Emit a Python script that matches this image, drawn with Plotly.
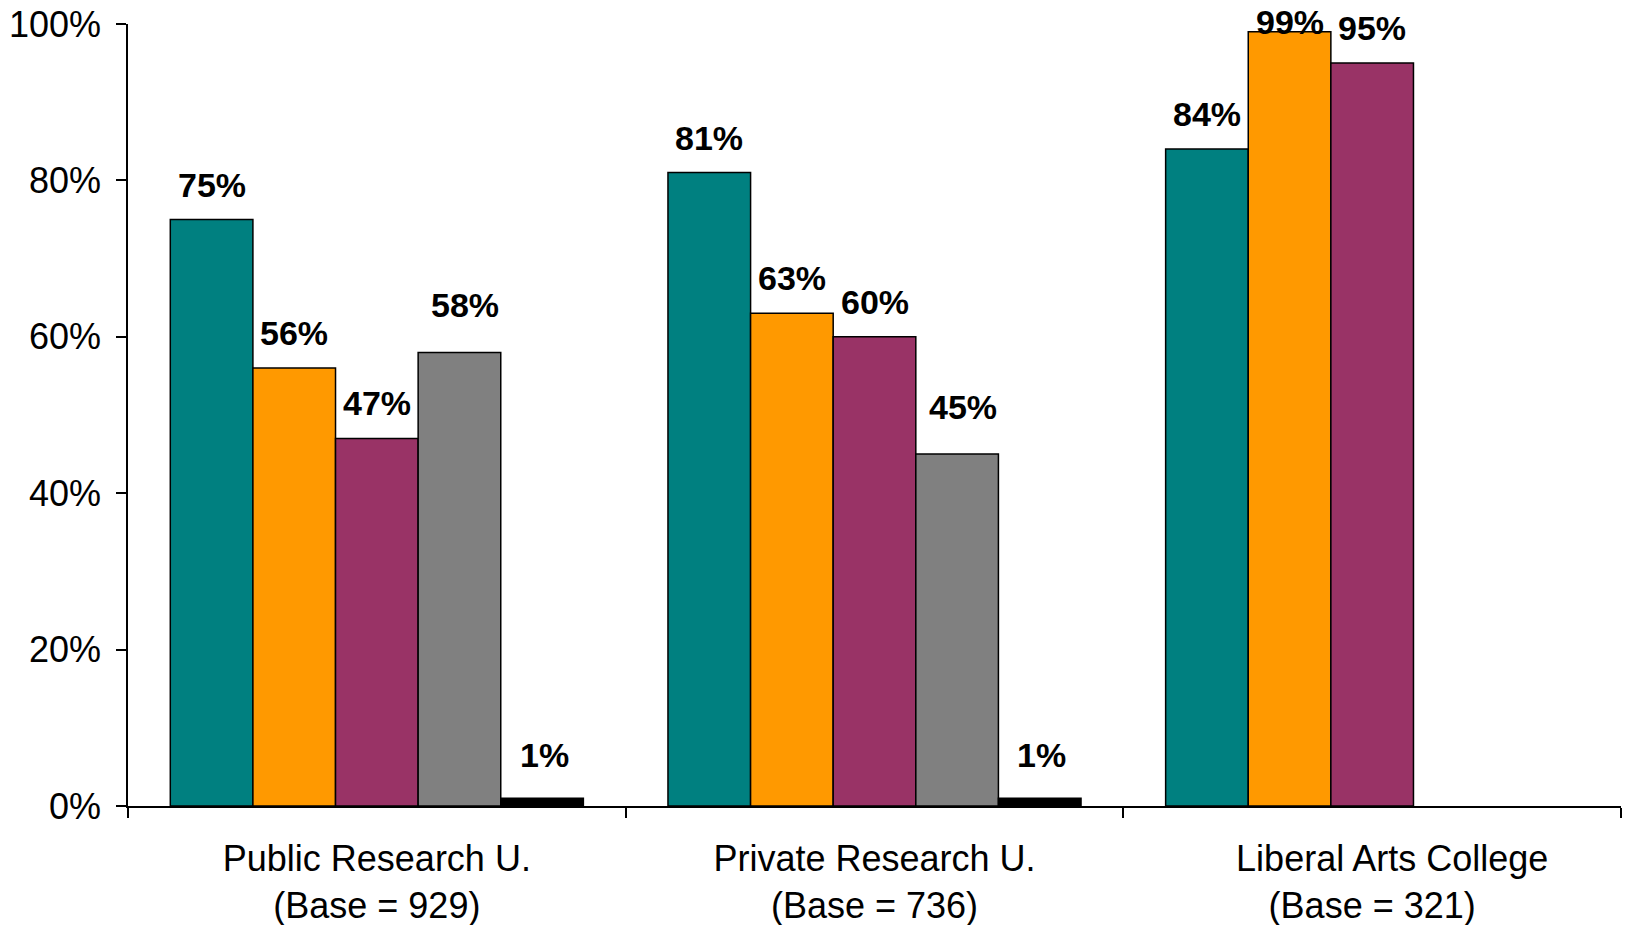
import plotly.graph_objects as go

categories = ["Public Research U.<br>(Base = 929)",
              "Private Research U.<br>(Base = 736)",
              "\u00a0\u00a0\u00a0\u00a0Liberal Arts College<br>(Base = 321)"]
series_names = ["Series 1", "Series 2", "Series 3", "Series 4", "Series 5"]
series_values = [
    [75, 81, 84],
    [56, 63, 99],
    [47, 60, 95],
    [58, 45, None],
    [1, 1, None],
]
series_colors = ["#008080", "#FF9900", "#993366", "#808080", "#000000"]
y_tick_vals = [0, 20, 40, 60, 80, 100]
y_tick_text = ["0%", "20%", "40%", "60%", "80%", "100%"]

# label placement per series (pixels above bar top, horizontal nudge)
label_lift = [35, 35, 35, 47, 43]
label_nudge = [0, 0, 0, 6, 2]

FONT = "Liberation Sans, Arial, sans-serif"
bargap = 0.17
n = len(series_values)

fig = go.Figure()
for name, vals, col in zip(series_names, series_values, series_colors):
    fig.add_trace(go.Bar(
        x=categories, y=vals, name=name,
        marker=dict(color=col, line=dict(color="#000000", width=1.5)),
        showlegend=False, hoverinfo="skip",
    ))

# value labels above the bars
w = (1 - bargap) / n
plot_h = 925 - 24 - 119
annotations = []
for j, vals in enumerate(series_values):
    for i, v in enumerate(vals):
        if v is None:
            continue
        yshift = min(label_lift[j], (100.3 - v) * plot_h / 100)
        annotations.append(dict(
            x=i + (j - (n - 1) / 2) * w, y=v, xref="x", yref="y",
            text=f"<b>{v}%</b>", showarrow=False, yanchor="middle",
            xanchor="center", yshift=yshift, xshift=label_nudge[j],
            font=dict(family=FONT, size=34, color="#000000"),
        ))

fig.update_layout(
    width=1631, height=925,
    margin=dict(l=128, r=10, t=24, b=119),
    plot_bgcolor="white", paper_bgcolor="white",
    barmode="group", bargap=bargap, bargroupgap=0,
    annotations=annotations,
    font=dict(family=FONT, color="#000000"),
)
fig.update_yaxes(
    range=[0, 100], tickvals=y_tick_vals, ticktext=y_tick_text,
    showgrid=False, zeroline=False, showline=True, linecolor="#000000",
    linewidth=1.5, ticks="outside", ticklen=10, tickcolor="#000000",
    tickwidth=1.5, tickfont=dict(family=FONT, size=36, color="#000000"),
    ticklabelstandoff=8, automargin=False,
)
fig.update_xaxes(
    showgrid=False, showline=True, linecolor="#000000", linewidth=1.5,
    ticks="outside", ticklen=10, tickcolor="#000000", tickwidth=1.5,
    tickson="boundaries", automargin=False, ticklabelstandoff=20,
    tickfont=dict(family=FONT, size=36, color="#000000"),
)

fig.write_html("out.html")
